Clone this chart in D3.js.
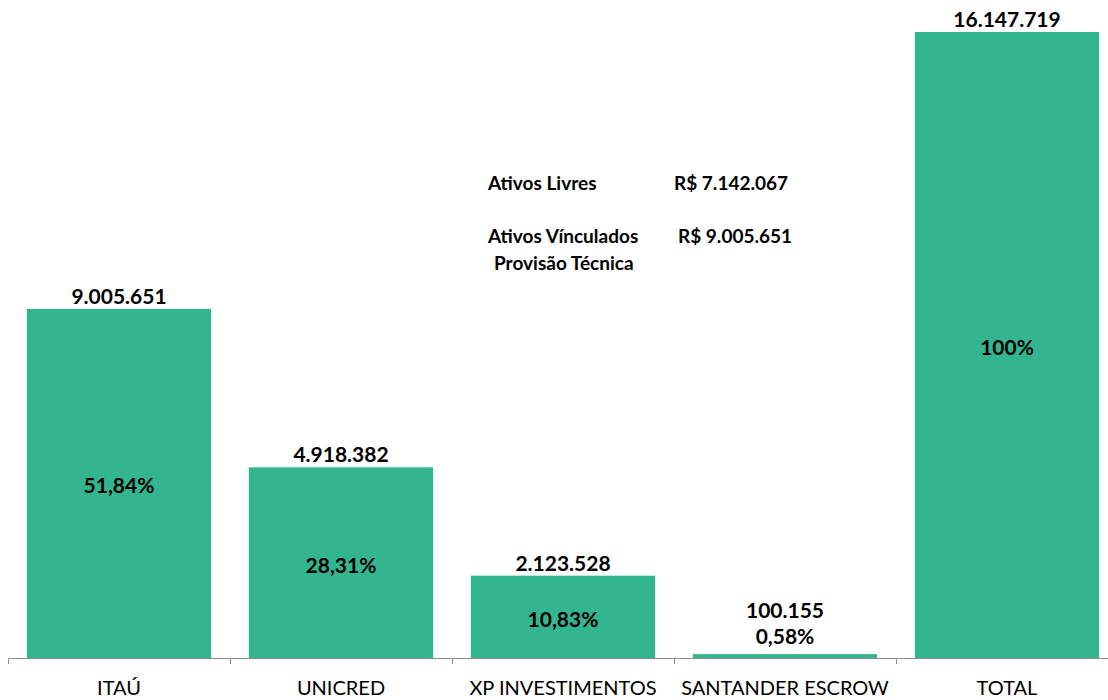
<!DOCTYPE html>
<html>
<head>
<meta charset="utf-8">
<script src="https://cdn.jsdelivr.net/npm/d3@7"></script>
<style>
  body { margin: 0; background: #fff; }
  text { font-family: Lato, "Open Sans", sans-serif; fill: #000; }
</style>
</head>
<body>
<svg id="chart" width="1108" height="700"></svg>
<script>
// data
var categories = ["ITAÚ", "UNICRED", "XP INVESTIMENTOS", "SANTANDER ESCROW", "TOTAL"];
var values = [9005651, 4918382, 2123528, 100155, 16147719];
var percents = ["51,84%", "28,31%", "10,83%", "0,58%", "100%"];
var notes = [
  {label: "Ativos Livres", amount: "R$ 7.142.067"},
  {label: "Ativos Vínculados", amount: "R$ 9.005.651"}
];

var margin = {top: 32, right: -10, bottom: 42, left: 8},
    width = 1108 - margin.left - margin.right,
    height = 700 - margin.top - margin.bottom;

var fmt = function(v) { return d3.format(",d")(v).replace(/,/g, "."); };

var svg = d3.select("#chart");
var g = svg.append("g")
    .attr("transform", "translate(" + margin.left + "," + margin.top + ")");

var x = d3.scaleBand()
    .domain(categories)
    .range([0, width])
    .paddingInner(0.17)
    .paddingOuter(0.085);

var y = d3.scaleLinear()
    .domain([0, d3.max(values)])
    .range([height, 0]);

var data = categories.map(function(c, i) { return {name: c, value: values[i], pct: percents[i]}; });

g.selectAll("rect.bar")
    .data(data)
  .enter().append("rect")
    .attr("class", "bar")
    .attr("x", function(d) { return x(d.name); })
    .attr("y", function(d) { return y(d.value); })
    .attr("width", x.bandwidth())
    .attr("height", function(d) { return height - y(d.value); })
    .attr("fill", "#33b68f");

// axis with ticks between the bands
var step = x.step();
g.append("line")
    .attr("x1", 0).attr("x2", width)
    .attr("y1", height + 0.5).attr("y2", height + 0.5)
    .attr("stroke", "#8c8c8c");
g.selectAll("line.tick")
    .data(d3.range(categories.length + 1))
  .enter().append("line")
    .attr("class", "tick")
    .attr("x1", function(i) { return Math.round(i * step) + 0.5; })
    .attr("x2", function(i) { return Math.round(i * step) + 0.5; })
    .attr("y1", height).attr("y2", height + 6)
    .attr("stroke", "#8c8c8c");

g.selectAll("text.cat")
    .data(data)
  .enter().append("text")
    .attr("class", "cat")
    .attr("x", function(d) { return x(d.name) + x.bandwidth() / 2; })
    .attr("y", height + 37)
    .attr("text-anchor", "middle")
    .style("font-size", "20px")
    .text(function(d) { return d.name; });

// value labels above bars
g.selectAll("text.val")
    .data(data)
  .enter().append("text")
    .attr("class", "val")
    .attr("x", function(d) { return x(d.name) + x.bandwidth() / 2; })
    .attr("y", function(d) { return y(d.value) - (d.value < 1e6 ? 36 : 5); })
    .attr("text-anchor", "middle")
    .style("font-size", "21px")
    .style("font-weight", "bold")
    .text(function(d) { return fmt(d.value); });

// percent labels inside bars (above when the bar is too thin)
g.selectAll("text.pct")
    .data(data)
  .enter().append("text")
    .attr("class", "pct")
    .attr("x", function(d) { return x(d.name) + x.bandwidth() / 2; })
    .attr("y", function(d) {
      var h = height - y(d.value);
      return h < 30 ? y(d.value) - 10 : y(d.value) + h / 2 + 10;
    })
    .attr("text-anchor", "middle")
    .style("font-size", "21px")
    .style("font-weight", "bold")
    .text(function(d) { return d.pct; });

// note box
var note = svg.append("g").style("font-size", "19px").style("font-weight", "bold");
note.selectAll("text.lbl")
    .data(notes)
  .enter().append("text")
    .attr("x", 488)
    .attr("y", function(d, i) { return 190 + i * 53; })
    .text(function(d) { return d.label; });
note.selectAll("text.amt")
    .data(notes)
  .enter().append("text")
    .attr("x", function(d, i) { return 674 + i * 4; })
    .attr("y", function(d, i) { return 190 + i * 53; })
    .text(function(d) { return d.amount; });
note.append("text")
    .attr("x", 494)
    .attr("y", 270)
    .text("Provisão Técnica");
</script>
</body>
</html>
